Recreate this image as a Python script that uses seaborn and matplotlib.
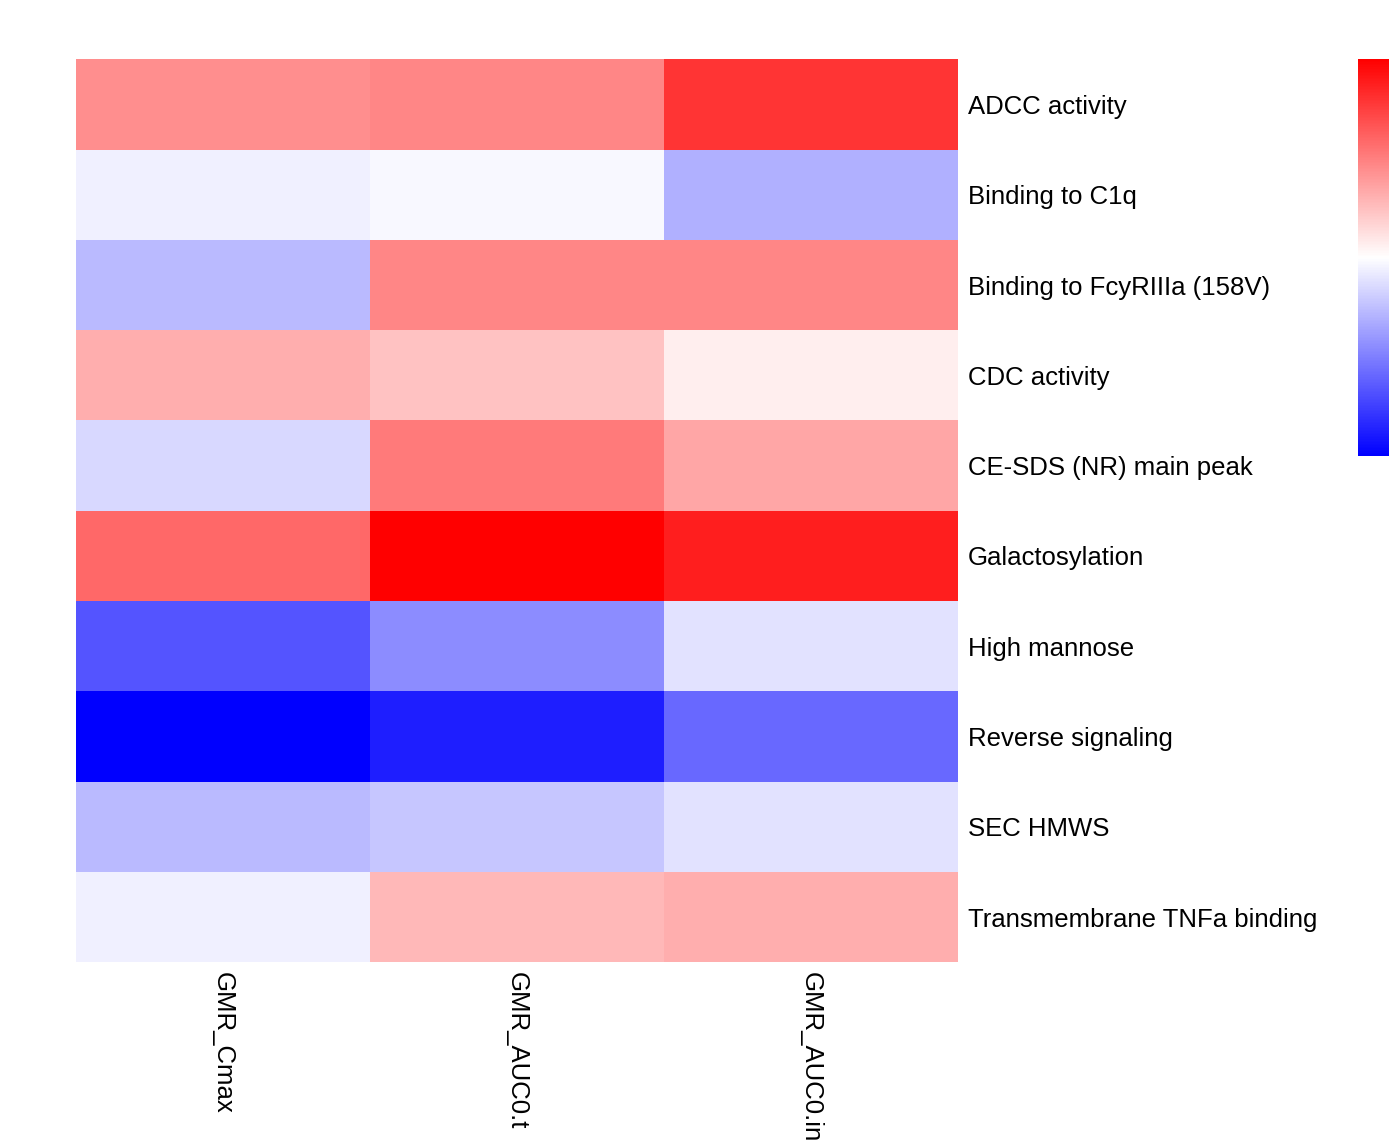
import numpy as np
import pandas as pd
import seaborn as sns
import matplotlib.pyplot as plt

# rows / columns of the heatmap
attributes = ["ADCC activity", "Binding to C1q", "Binding to FcyRIIIa (158V)",
              "CDC activity", "CE-SDS (NR) main peak", "Galactosylation",
              "High mannose", "Reverse signaling", "SEC HMWS",
              "Transmembrane TNFa binding"]
pk_params = ["GMR_Cmax", "GMR_AUC0.t", "GMR_AUC0.inf"]

# correlation-like values
gmr_cmax = [0.44, -0.06, -0.27, 0.32, -0.15, 0.59, -0.67, -1.00, -0.27, -0.06]
gmr_auc0t = [0.47, -0.03, 0.47, 0.24, 0.52, 1.00, -0.45, -0.88, -0.22, 0.28]
gmr_auc0inf = [0.79, -0.31, 0.47, 0.07, 0.35, 0.88, -0.11, -0.59, -0.11, 0.32]

df = pd.DataFrame({pk_params[0]: gmr_cmax,
                   pk_params[1]: gmr_auc0t,
                   pk_params[2]: gmr_auc0inf}, index=attributes)

sns.set_style("white")
plt.rcParams['font.family'] = ['Liberation Sans', 'DejaVu Sans']

fig = plt.figure(figsize=(13.98, 11.40), dpi=100)
ax = fig.add_axes([0.0544, 0.156, 0.6310, 0.792])
cax = fig.add_axes([0.9714, 0.600, 0.0222, 0.348])

sns.heatmap(df, ax=ax, cbar_ax=cax, cmap="bwr", vmin=-1, vmax=1,
            linewidths=0)

ax.yaxis.tick_right()
ax.tick_params(axis="y", length=0, pad=7, labelsize=18.5, rotation=0,
               labelcolor="black")
ax.tick_params(axis="x", length=0, pad=7, labelsize=18.5, labelcolor="black")
for lab in ax.get_xticklabels():
    lab.set_rotation(270)
    lab.set_va("top")
    lab.set_ha("center")
ax.set_xlabel("")
ax.set_ylabel("")

cax.set_yticks([])
for s in cax.spines.values():
    s.set_visible(False)

fig.savefig("out.png", dpi=100)
